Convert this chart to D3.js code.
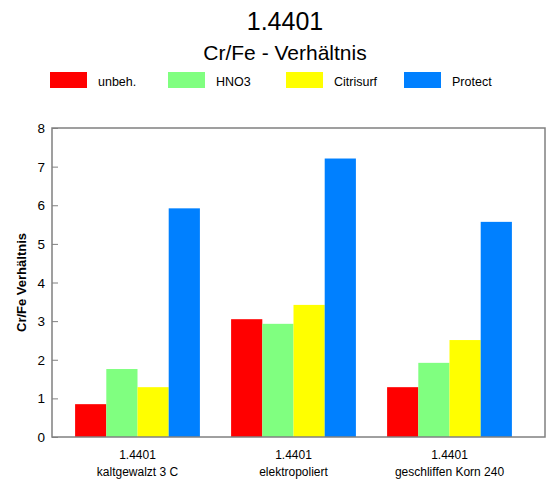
<!DOCTYPE html>
<html>
<head>
<meta charset="utf-8">
<script src="https://cdn.jsdelivr.net/npm/d3@7"></script>
<style>
  body { margin: 0; background: #fff; }
  svg { font-family: "Liberation Sans", Arial, sans-serif; }
</style>
</head>
<body>
<svg width="546" height="481"></svg>
<script>
// data
const categories = ['kaltgewalzt 3 C', 'elektropoliert', 'geschliffen Korn 240'];
const material = '1.4401';
const series = ['unbeh.', 'HNO3', 'Citrisurf', 'Protect'];
const colors = ['#ff0000', '#80ff80', '#ffff00', '#0080ff'];
const unbeh = [0.85, 3.05, 1.29];
const hno3 = [1.76, 2.93, 1.92];
const citrisurf = [1.29, 3.42, 2.51];
const protect = [5.92, 7.21, 5.57];
const yTicks = [0, 1, 2, 3, 4, 5, 6, 7, 8];

const values = [unbeh, hno3, citrisurf, protect];

const svg = d3.select('svg');

const frame = { left: 52, right: 545, top: 128, bottom: 437 };

// titles
svg.append('text')
  .attr('x', 285).attr('y', 30)
  .attr('text-anchor', 'middle')
  .style('font-size', '25px')
  .text('1.4401');

svg.append('text')
  .attr('x', 285).attr('y', 60)
  .attr('text-anchor', 'middle')
  .style('font-size', '21px')
  .text('Cr/Fe - Verhältnis');

// legend
const legend = svg.append('g');
series.forEach((s, i) => {
  const lx = 50 + i * 118;
  legend.append('rect')
    .attr('x', lx).attr('y', 72)
    .attr('width', 37).attr('height', 16)
    .attr('fill', colors[i]);
  legend.append('text')
    .attr('x', lx + 48).attr('y', 86)
    .style('font-size', '12.5px')
    .text(s);
});

// scales
const x0 = d3.scaleBand()
  .domain(categories)
  .range([59.5, 527.5])
  .paddingInner(0.2)
  .paddingOuter(0.1);

const x1 = d3.scaleBand()
  .domain(series)
  .range([0, x0.bandwidth()]);

const y = d3.scaleLinear()
  .domain([0, 8])
  .range([frame.bottom, frame.top]);

// bars
const groups = svg.append('g')
  .selectAll('g')
  .data(categories)
  .enter()
  .append('g')
  .attr('transform', (d) => `translate(${x0(d)},0)`);

groups.selectAll('rect')
  .data((d, ci) => series.map((s, si) => ({ s: s, v: values[si][ci], c: colors[si] })))
  .enter()
  .append('rect')
  .attr('x', (d) => x1(d.s))
  .attr('y', (d) => y(d.v))
  .attr('width', x1.bandwidth())
  .attr('height', (d) => y(0) - y(d.v))
  .attr('fill', (d) => d.c);

// frame
svg.append('rect')
  .attr('x', frame.left).attr('y', frame.top)
  .attr('width', frame.right - frame.left)
  .attr('height', frame.bottom - frame.top)
  .attr('fill', 'none')
  .attr('stroke', '#808080')
  .attr('stroke-width', 1.5);

// y axis, ticks inside
const yAxis = svg.append('g')
  .attr('transform', `translate(${frame.left},0)`)
  .call(d3.axisRight(y).tickValues(yTicks).tickSize(6).tickFormat(''));
yAxis.select('.domain').remove();
yAxis.selectAll('line').attr('stroke', '#808080');

svg.append('g')
  .selectAll('text')
  .data(yTicks)
  .enter()
  .append('text')
  .attr('x', 45)
  .attr('y', (d) => y(d) + 5)
  .attr('text-anchor', 'end')
  .style('font-size', '13.5px')
  .text((d) => d);

svg.append('text')
  .attr('transform', `translate(26, ${(frame.top + frame.bottom) / 2}) rotate(-90)`)
  .attr('text-anchor', 'middle')
  .style('font-size', '13px')
  .style('font-weight', 'bold')
  .text('Cr/Fe Verhältnis');

// x labels
const xl = svg.append('g')
  .selectAll('g')
  .data(categories)
  .enter()
  .append('g')
  .attr('transform', (d) => `translate(${x0(d) + x0.bandwidth() / 2},0)`);

xl.append('text')
  .attr('y', 459)
  .attr('text-anchor', 'middle')
  .style('font-size', '12px')
  .text(material);

xl.append('text')
  .attr('y', 476)
  .attr('text-anchor', 'middle')
  .style('font-size', '12px')
  .text((d) => d);
</script>
</body>
</html>
